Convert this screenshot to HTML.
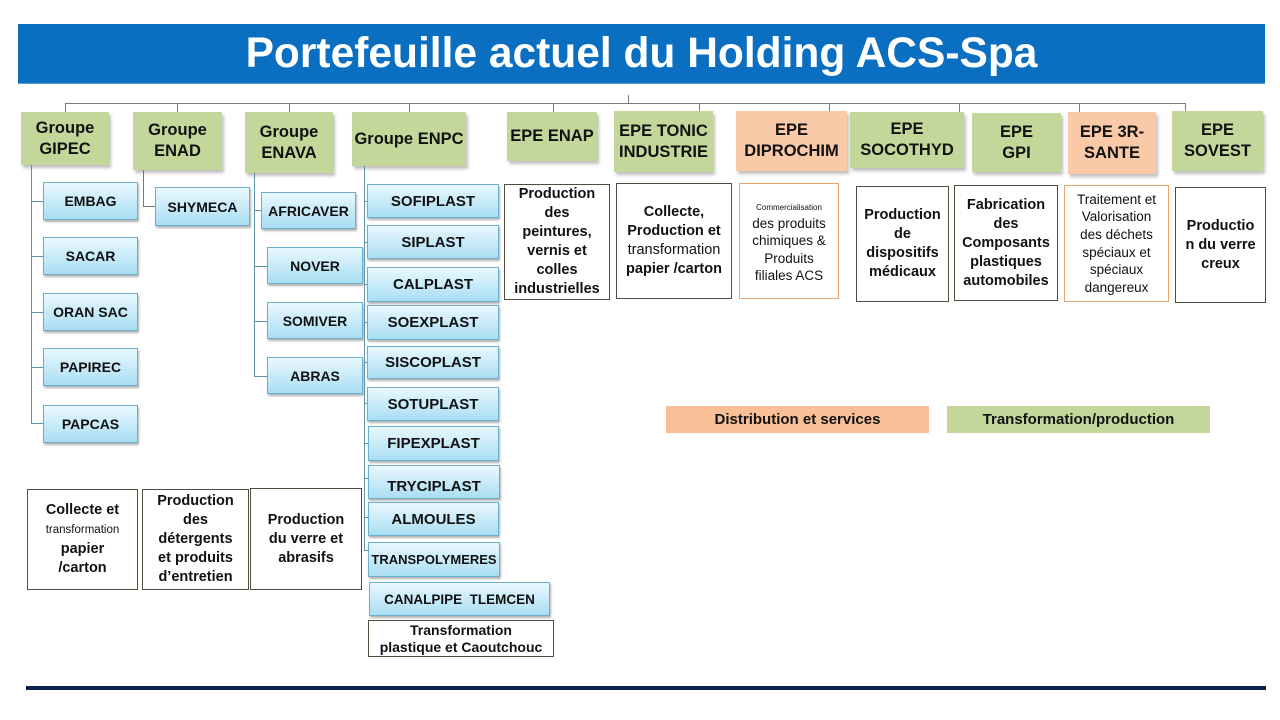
<!DOCTYPE html>
<html><head><meta charset="utf-8"><style>
*{margin:0;padding:0;box-sizing:border-box}
body{width:1280px;height:720px;background:#fff;position:relative;overflow:hidden;font-family:"Liberation Sans",Arial,sans-serif}
.a{position:absolute}
.title{left:18px;top:24px;width:1247px;height:60px;background:#0A6FC0;border-bottom:1px solid #5a9ad6;color:#fff;font-weight:bold;font-size:42.5px;text-align:center;line-height:60px}
.l{position:absolute;background:#7a7a7a}
.t{position:absolute;background:#5b93aa}
.h{position:absolute;background:#C4D79B;box-shadow:2px 3px 3px rgba(0,0,0,0.25);font-weight:bold;font-size:16.5px;line-height:21px;display:flex;align-items:center;justify-content:center;text-align:center;color:#111;white-space:nowrap}
.h.o{background:#FAC9A8}
.b{position:absolute;background:linear-gradient(#E9F8FE,#A9DEF3);border:1px solid #6FAECB;box-shadow:1px 2px 2px rgba(0,0,0,0.3);font-weight:bold;font-size:15px;display:flex;align-items:center;justify-content:center;color:#111;white-space:nowrap}
.d{position:absolute;background:#fff;border:1px solid #4e4e3e;font-weight:bold;font-size:14.5px;line-height:19px;display:flex;align-items:center;justify-content:center;text-align:center;color:#111;white-space:nowrap}
.d.o{border-color:#EBA46A}
.n{font-weight:normal}
</style></head><body>
<div class="a title">Portefeuille actuel du Holding ACS-Spa</div>

<!-- top connectors -->
<div class="l" style="left:66px;top:103px;width:1120px;height:1px"></div>
<div class="l" style="left:628px;top:95px;width:1px;height:8px"></div>
<div class="l" style="left:65px;top:103px;width:1px;height:9px"></div>
<div class="l" style="left:177px;top:103px;width:1px;height:9px"></div>
<div class="l" style="left:289px;top:103px;width:1px;height:9px"></div>
<div class="l" style="left:409px;top:103px;width:1px;height:9px"></div>
<div class="l" style="left:553px;top:103px;width:1px;height:9px"></div>
<div class="l" style="left:699px;top:103px;width:1px;height:9px"></div>
<div class="l" style="left:829px;top:103px;width:1px;height:9px"></div>
<div class="l" style="left:959px;top:103px;width:1px;height:9px"></div>
<div class="l" style="left:1079px;top:103px;width:1px;height:9px"></div>
<div class="l" style="left:1185px;top:103px;width:1px;height:9px"></div>

<!-- header boxes -->
<div class="h" style="left:21px;top:112px;width:88px;height:53px"><div>Groupe<br>GIPEC</div></div>
<div class="h" style="left:133px;top:112px;width:89px;height:58px"><div>Groupe<br>ENAD</div></div>
<div class="h" style="left:245px;top:112px;width:88px;height:61px"><div>Groupe<br>ENAVA</div></div>
<div class="h" style="left:352px;top:112px;width:114px;height:54px"><div>Groupe ENPC</div></div>
<div class="h" style="left:507px;top:112px;width:90px;height:49px"><div>EPE ENAP</div></div>
<div class="h" style="left:614px;top:111px;width:99px;height:61px"><div>EPE TONIC<br>INDUSTRIE</div></div>
<div class="h o" style="left:736px;top:111px;width:111px;height:60px"><div>EPE<br>DIPROCHIM</div></div>
<div class="h" style="left:850px;top:112px;width:114px;height:56px"><div>EPE<br>SOCOTHYD</div></div>
<div class="h" style="left:972px;top:113px;width:89px;height:59px"><div>EPE<br>GPI</div></div>
<div class="h o" style="left:1068px;top:112px;width:88px;height:62px"><div>EPE 3R-<br>SANTE</div></div>
<div class="h" style="left:1172px;top:111px;width:91px;height:60px"><div>EPE<br>SOVEST</div></div>

<!-- GIPEC tree -->
<div class="t" style="left:31px;top:165px;width:1px;height:258px"></div>
<div class="t" style="left:31px;top:201px;width:12px;height:1px"></div>
<div class="t" style="left:31px;top:256px;width:12px;height:1px"></div>
<div class="t" style="left:31px;top:312px;width:12px;height:1px"></div>
<div class="t" style="left:31px;top:367px;width:12px;height:1px"></div>
<div class="t" style="left:31px;top:423px;width:12px;height:1px"></div>
<div class="b" style="left:43px;top:182px;width:95px;height:38px;font-size:14px">EMBAG</div>
<div class="b" style="left:43px;top:237px;width:95px;height:38px;font-size:14px">SACAR</div>
<div class="b" style="left:43px;top:293px;width:95px;height:38px;font-size:14px">ORAN SAC</div>
<div class="b" style="left:43px;top:348px;width:95px;height:38px;font-size:14px">PAPIREC</div>
<div class="b" style="left:43px;top:405px;width:95px;height:38px;font-size:14px">PAPCAS</div>

<!-- ENAD tree -->
<div class="l" style="left:143px;top:170px;width:1px;height:36px;background:#6d7a70"></div>
<div class="l" style="left:143px;top:206px;width:12px;height:1px;background:#6d7a70"></div>
<div class="b" style="left:155px;top:187px;width:95px;height:39px;font-size:14px">SHYMECA</div>

<!-- ENAVA tree -->
<div class="t" style="left:254px;top:173px;width:1px;height:204px"></div>
<div class="t" style="left:254px;top:210px;width:7px;height:1px"></div>
<div class="t" style="left:254px;top:266px;width:13px;height:1px"></div>
<div class="t" style="left:254px;top:321px;width:13px;height:1px"></div>
<div class="t" style="left:254px;top:376px;width:13px;height:1px"></div>
<div class="b" style="left:261px;top:192px;width:95px;height:37px;font-size:14px">AFRICAVER</div>
<div class="b" style="left:267px;top:247px;width:96px;height:37px;font-size:14px">NOVER</div>
<div class="b" style="left:267px;top:302px;width:96px;height:37px;font-size:14px">SOMIVER</div>
<div class="b" style="left:267px;top:357px;width:96px;height:37px;font-size:14px">ABRAS</div>

<!-- ENPC tree -->
<div class="t" style="left:364px;top:166px;width:1px;height:384px"></div>
<div class="t" style="left:364px;top:201px;width:4px;height:1px"></div>
<div class="t" style="left:364px;top:242px;width:4px;height:1px"></div>
<div class="t" style="left:364px;top:284px;width:4px;height:1px"></div>
<div class="t" style="left:364px;top:322px;width:4px;height:1px"></div>
<div class="t" style="left:364px;top:362px;width:4px;height:1px"></div>
<div class="t" style="left:364px;top:403px;width:4px;height:1px"></div>
<div class="t" style="left:364px;top:443px;width:4px;height:1px"></div>
<div class="t" style="left:364px;top:478px;width:4px;height:1px"></div>
<div class="t" style="left:364px;top:517px;width:4px;height:1px"></div>
<div class="t" style="left:364px;top:550px;width:4px;height:1px"></div>
<div class="b" style="left:367px;top:184px;width:132px;height:34px">SOFIPLAST</div>
<div class="b" style="left:367px;top:225px;width:132px;height:34px">SIPLAST</div>
<div class="b" style="left:367px;top:267px;width:132px;height:35px">CALPLAST</div>
<div class="b" style="left:367px;top:305px;width:132px;height:35px">SOEXPLAST</div>
<div class="b" style="left:367px;top:346px;width:132px;height:33px">SISCOPLAST</div>
<div class="b" style="left:367px;top:387px;width:132px;height:34px">SOTUPLAST</div>
<div class="b" style="left:368px;top:426px;width:131px;height:35px">FIPEXPLAST</div>
<div class="b" style="left:368px;top:465px;width:132px;height:34px;align-items:flex-end;padding-bottom:3px">TRYCIPLAST</div>
<div class="b" style="left:368px;top:502px;width:131px;height:34px">ALMOULES</div>
<div class="b" style="left:368px;top:542px;width:132px;height:35px;font-size:13px">TRANSPOLYMERES</div>
<div class="b" style="left:369px;top:582px;width:181px;height:34px;font-size:13.5px;white-space:pre">CANALPIPE  TLEMCEN</div>
<div class="d" style="left:368px;top:620px;width:186px;height:37px;align-items:flex-start;padding-top:1px;line-height:17px;font-size:14px"><div>Transformation<br>plastique et Caoutchouc</div></div>

<!-- description boxes top -->
<div class="d" style="left:504px;top:184px;width:106px;height:116px"><div>Production<br>des<br>peintures,<br>vernis et<br>colles<br>industrielles</div></div>
<div class="d" style="left:616px;top:183px;width:116px;height:116px"><div>Collecte,<br>Production et<br><span class="n">transformation</span><br>papier /carton</div></div>
<div class="d o" style="left:739px;top:183px;width:100px;height:116px;font-weight:normal;font-size:13.5px;line-height:17.5px"><div><span style="font-size:8px;line-height:12px">Commercialisation</span><br>des produits<br>chimiques &amp;<br>Produits<br>filiales ACS</div></div>
<div class="d" style="left:856px;top:186px;width:93px;height:116px"><div>Production<br>de<br>dispositifs<br>médicaux</div></div>
<div class="d" style="left:954px;top:185px;width:104px;height:116px"><div>Fabrication<br>des<br>Composants<br>plastiques<br>automobiles</div></div>
<div class="d o" style="left:1064px;top:185px;width:105px;height:117px;font-weight:normal;font-size:13.5px;line-height:17.6px"><div>Traitement et<br>Valorisation<br>des déchets<br>spéciaux et<br>spéciaux<br>dangereux</div></div>
<div class="d" style="left:1175px;top:187px;width:91px;height:116px"><div>Productio<br>n du verre<br>creux</div></div>

<!-- description boxes bottom -->
<div class="d" style="left:27px;top:489px;width:111px;height:101px"><div>Collecte et<br><span class="n" style="font-size:11.5px">transformation</span><br>papier<br>/carton</div></div>
<div class="d" style="left:142px;top:489px;width:107px;height:101px"><div>Production<br>des<br>détergents<br>et produits<br>d’entretien</div></div>
<div class="d" style="left:250px;top:488px;width:112px;height:102px"><div>Production<br>du verre et<br>abrasifs</div></div>

<!-- legend -->
<div class="a" style="left:666px;top:406px;width:263px;height:27px;background:#F9C097;font-weight:bold;font-size:15px;line-height:27px;text-align:center;color:#111">Distribution et services</div>
<div class="a" style="left:947px;top:406px;width:263px;height:27px;background:#C4D79B;font-weight:bold;font-size:15px;line-height:27px;text-align:center;color:#111">Transformation/production</div>

<!-- bottom rule -->
<div class="a" style="left:26px;top:686px;width:1240px;height:4px;background:#0D1F4F"></div>
</body></html>
